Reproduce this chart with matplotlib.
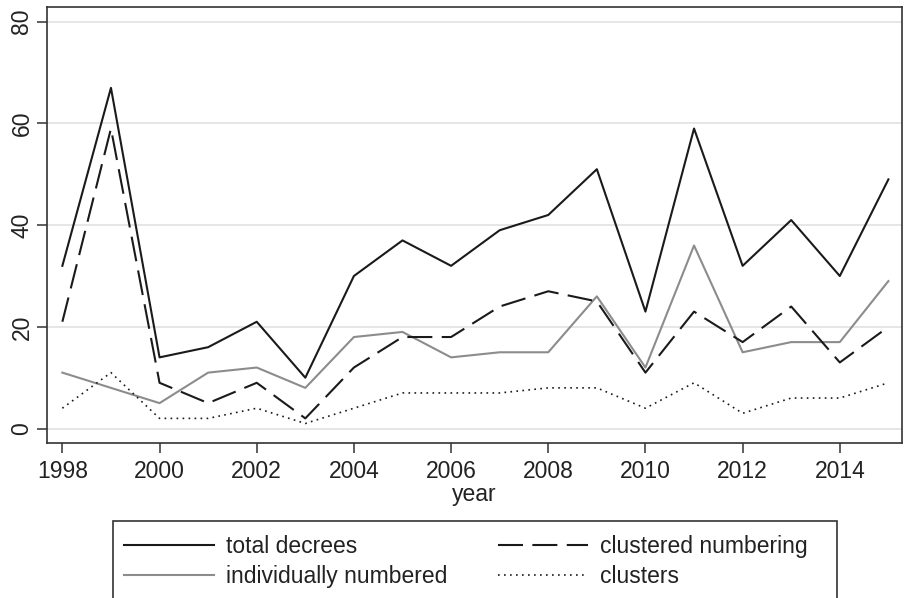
import matplotlib
matplotlib.use("Agg")
import matplotlib.pyplot as plt
from matplotlib.patches import Rectangle

years = list(range(1998, 2016))
total_decrees = [32, 67, 14, 16, 21, 10, 30, 37, 32, 39, 42, 51, 23, 59, 32, 41, 30, 49]
clustered_numbering = [21, 59, 9, 5, 9, 2, 12, 18, 18, 24, 27, 25, 11, 23, 17, 24, 13, 20]
individually_numbered = [11, 8, 5, 11, 12, 8, 18, 19, 14, 15, 15, 26, 12, 36, 15, 17, 17, 29]
clusters = [4, 11, 2, 2, 4, 1, 4, 7, 7, 7, 8, 8, 4, 9, 3, 6, 6, 9]

x_ticks = list(range(1998, 2016, 2))
y_ticks = [0, 20, 40, 60, 80]

plt.rcParams["font.family"] = ["Liberation Sans", "DejaVu Sans"]
FS = 16.5
frame_col = "#333333"
W, H = 906, 598

fig = plt.figure(figsize=(W / 100, H / 100), dpi=100)
ax = fig.add_axes([47.3 / W, 1 - 443.3 / H, (902 - 47.3) / W, (443.3 - 7) / H])

for y in y_ticks:
    ax.axhline(y, color="#e6e6e6", lw=1.4, zorder=0)

ax.plot(years, total_decrees, color="#1a1a1a", lw=1.5, label="total decrees")
ax.plot(years, individually_numbered, color="#8c8c8c", lw=1.5, label="individually numbered")
ax.plot(years, clustered_numbering, color="#1a1a1a", lw=1.5, dashes=(12, 4.5),
        label="clustered numbering")
ax.plot(years, clusters, color="#1a1a1a", lw=1.2, dashes=(1, 2.6), label="clusters")

ax.set_xlim(1997.69, 2015.28)
ax.set_ylim(-2.9, 82.9)
ax.set_xticks(x_ticks)
ax.set_yticks(y_ticks)
ax.set_yticklabels([str(v) for v in y_ticks], rotation=90, va="center")
ax.tick_params(axis="both", labelsize=FS, colors="#222222", length=7, width=1.1,
               color=frame_col)
ax.tick_params(axis="x", pad=5)
ax.tick_params(axis="y", pad=3)
for s in ax.spines.values():
    s.set_color(frame_col)
    s.set_linewidth(1.2)

ax.set_xlabel("year", fontsize=FS, color="#222222", labelpad=0)

# legend box runs off the bottom edge of the figure
fig.add_artist(Rectangle((113 / W, 1 - 640 / H), (837 - 113) / W, (640 - 521) / H,
                         transform=fig.transFigure, facecolor="white",
                         edgecolor=frame_col, linewidth=1.2, zorder=1))

handles, labels = ax.get_legend_handles_labels()
leg = fig.legend(handles, labels,
                 loc="upper left", bbox_to_anchor=(113 / W, 1 - 524 / H),
                 ncol=2, fontsize=FS, frameon=False,
                 handlelength=3.9, handletextpad=0.55, columnspacing=2.2,
                 labelspacing=0.3, borderpad=0.5, borderaxespad=0)
leg.set_zorder(2)
for t in leg.get_texts():
    t.set_color("#222222")

fig.savefig("out.png", dpi=100)
